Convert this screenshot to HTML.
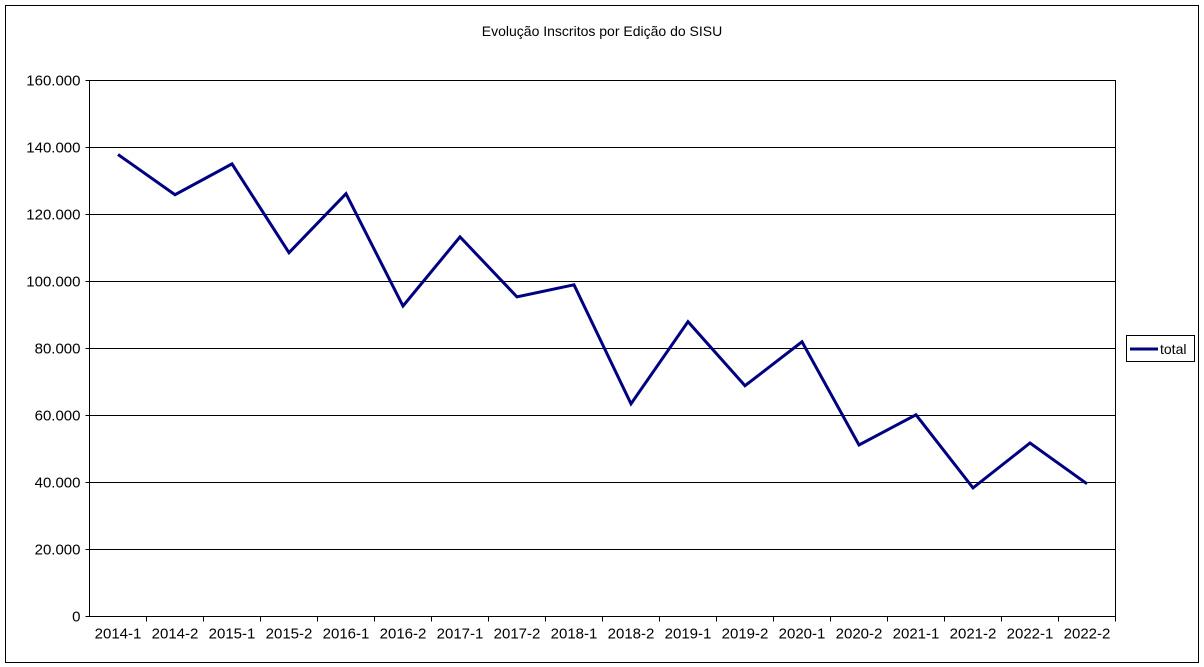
<!DOCTYPE html>
<html><head><meta charset="utf-8"><style>
html,body{margin:0;padding:0;background:#fff;}
svg{display:block;font-family:"Liberation Sans",Arial,sans-serif;}
</style></head><body>
<svg id="chart" width="1204" height="667">
<rect x="5.5" y="5.5" width="1193" height="657" fill="#fff" stroke="#000"/>
<text x="602" y="36" text-anchor="middle" font-size="14">Evolução Inscritos por Edição do SISU</text>
<g id="grid"></g><g id="axes"></g><g id="series"></g>
<g>
<rect x="1126.5" y="335.5" width="68" height="26" fill="#fff" stroke="#000"/>
<line x1="1130" y1="349" x2="1158" y2="349" stroke="#000080" stroke-width="3"/>
<text x="1160" y="354" font-size="14">total</text>
</g>
</svg>
<script>
const categories=["2014-1","2014-2","2015-1","2015-2","2016-1","2016-2","2017-1","2017-2","2018-1","2018-2","2019-1","2019-2","2020-1","2020-2","2021-1","2021-2","2022-1","2022-2"];
const totals=[137900,125900,135100,108600,126200,92700,113300,95400,99000,63500,88000,68900,82000,51200,60200,38400,51800,39600];
const yTicks=[0,20000,40000,60000,80000,100000,120000,140000,160000];
const yTickLabels=["0","20.000","40.000","60.000","80.000","100.000","120.000","140.000","160.000"];
const L=89.5,R=1115.5,T=80.5,B=616.5,YMAX=160000;
const ns="http://www.w3.org/2000/svg";
const y=v=>B-(v/YMAX)*(B-T);
const bw=(R-L)/categories.length;
const x=i=>L+bw*(i+0.5);
function mk(tag,attrs,parent){const e=document.createElementNS(ns,tag);for(const k in attrs)e.setAttribute(k,attrs[k]);document.getElementById(parent).appendChild(e);return e;}
const bg=mk("rect",{x:L,y:T,width:R-L,height:B-T,fill:"#fff",stroke:"#000"},"grid");


yTicks.forEach((v,i)=>{
  const yy=Math.round(y(v)-0.5)+0.5;
  const g=mk("line",{x1:L-4,x2:R,y1:yy,y2:yy,stroke:"#000"},"grid");
  
  
  const t=mk("text",{x:L-9,y:yy+5,"text-anchor":"end","font-size":15},"axes");
  t.textContent=yTickLabels[i];
  
  
});
categories.forEach((c,i)=>{
  const xx=Math.round(L+bw*(i+1)-0.5)+0.5;
  const tk=mk("line",{x1:xx,x2:xx,y1:B,y2:B+5,stroke:"#000"},"axes");
  
  
  const t=mk("text",{x:x(i),y:B+22,"text-anchor":"middle","font-size":15},"axes");
  t.textContent=c;
  
  
});
const pts=totals.map((v,i)=>x(i).toFixed(1)+","+y(v).toFixed(1)).join(" ");
const pl=mk("polyline",{points:pts,fill:"none",stroke:"#000080","stroke-width":3,"stroke-linejoin":"miter"},"series");


</script>
</body></html>
